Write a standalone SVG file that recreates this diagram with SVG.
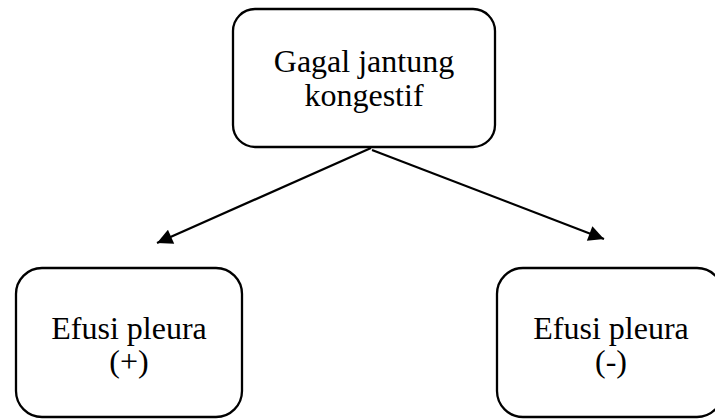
<svg xmlns="http://www.w3.org/2000/svg" width="715" height="419" viewBox="0 0 715 419">
<style>
.box{fill:#fff;stroke:#000;stroke-width:2.3}
.t{font-family:"Liberation Serif","Times New Roman",serif;font-size:32px;fill:#000;text-anchor:middle}
.c{stroke:#000;stroke-width:2.2;fill:none;marker-end:url(#ah)}
</style>
<defs>
<marker id="ah" viewBox="0 0 10 10" refX="10" refY="5" markerWidth="8" markerHeight="7" markerUnits="strokeWidth" orient="auto">
<path d="M0,0 L10,5 L0,10 z" fill="#000"/>
</marker>
</defs>
<rect width="715" height="419" fill="#fff"/>
<g id="connectors">
<line class="c" x1="371" y1="148" x2="157" y2="243"/>
<line class="c" x1="372" y1="150" x2="604" y2="239"/>
</g>
<g id="node-top">
<rect class="box" x="233" y="9" width="262" height="138" rx="22"/>
<text class="t" x="364" y="72">Gagal jantung</text>
<text class="t" x="364" y="106">kongestif</text>
</g>
<g id="node-left">
<rect class="box" x="16" y="268" width="226" height="149" rx="26"/>
<text class="t" x="129" y="339">Efusi pleura</text>
<text class="t" x="129" y="372">(+)</text>
</g>
<g id="node-right">
<rect class="box" x="497" y="268" width="226" height="149" rx="26"/>
<text class="t" x="611" y="339">Efusi pleura</text>
<text class="t" x="611" y="372">(-)</text>
</g>
</svg>
